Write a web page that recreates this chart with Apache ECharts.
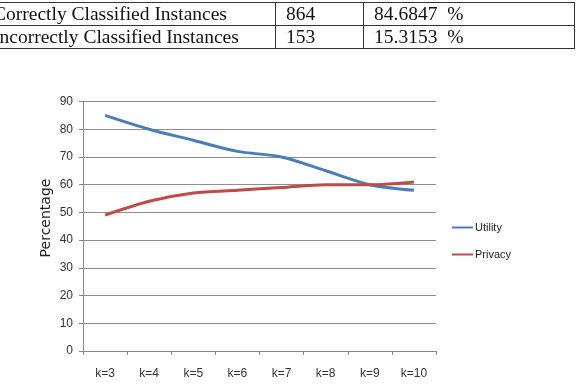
<!DOCTYPE html>
<html>
<head>
<meta charset="utf-8">
<script src="https://cdn.jsdelivr.net/npm/echarts@6/dist/echarts.min.js"></script>
<style>
  html, body { margin: 0; padding: 0; background: #fff; }
  #wrap { position: relative; width: 576px; height: 386px; overflow: hidden; }
  #chart { position: absolute; left: 0; top: 0; width: 576px; height: 386px; }
  #tbl {
    position: absolute; left: -18px; top: 2px; width: 592px;
    border-collapse: collapse; table-layout: fixed;
    font-family: "Liberation Serif", "DejaVu Serif", serif;
    font-size: 19.5px; color: #111;
  }
  #tbl td { border: 1px solid #333; padding: 0 0 0 10px; height: 22px; line-height: 22px; white-space: nowrap; overflow: hidden; }
</style>
</head>
<body>
<div id="wrap">
  <div id="chart"></div>
  <table id="tbl">
    <colgroup><col style="width:293px"><col style="width:88px"><col style="width:211px"></colgroup>
    <tr><td>Correctly Classified Instances</td><td>864</td><td>84.6847 &nbsp;%</td></tr>
    <tr><td>Incorrectly Classified Instances</td><td>153</td><td>15.3153 &nbsp;%</td></tr>
  </table>
</div>
<script>
// k 值
var categories = ['k=3', 'k=4', 'k=5', 'k=6', 'k=7', 'k=8', 'k=9', 'k=10'];
var utility = [85, 80, 76, 72, 70, 65, 60, 58];
var privacy = [49, 54, 57, 58, 59, 60, 60, 61];
var yTicks = [0, 10, 20, 30, 40, 50, 60, 70, 80, 90];

var colors = ['#4A7EBB', '#BE4B48'];
var myChart = echarts.init(document.getElementById('chart'));
var option = {
  color: colors,
  animation: false,
  grid: {
    left: 83,
    right: 140,
    top: 101.5,
    bottom: 35,
    containLabel: false,
    outerBoundsMode: 'none'
  },
  legend: {
    orient: 'vertical',
    left: 452,
    top: 222,
    padding: 0,
    icon: 'rect',
    itemWidth: 21,
    itemHeight: 2,
    itemGap: 16,
    textStyle: { fontFamily: 'Liberation Sans', fontSize: 11, color: '#222', padding: [0, 0, 0, -3] },
    data: ['Utility', 'Privacy']
  },
  graphic: [{
    type: 'text',
    x: 46,
    y: 218,
    rotation: Math.PI / 2,
    style: {
      text: 'Percentage',
      fontFamily: 'DejaVu Sans',
      fontSize: 14,
      fill: '#222',
      textAlign: 'center',
      textVerticalAlign: 'middle'
    }
  }],
  xAxis: {
    type: 'category',
    boundaryGap: true,
    data: categories,
    axisLine: { show: true, lineStyle: { color: '#868686', width: 1 } },
    axisTick: { show: true, length: 4, lineStyle: { color: '#868686' } },
    axisLabel: { margin: 17, fontFamily: 'Liberation Sans', fontSize: 12, color: '#333' }
  },
  yAxis: {
    type: 'value',
    min: yTicks[0],
    max: yTicks[yTicks.length - 1],
    interval: 10,
    axisLine: { show: true, lineStyle: { color: '#868686', width: 1 } },
    axisTick: { show: true, length: 4, lineStyle: { color: '#868686' } },
    axisLabel: { margin: 10, fontFamily: 'Liberation Sans', fontSize: 12, color: '#333' },
    splitLine: { show: true, lineStyle: { color: '#8c8c8c', width: 1 } }
  },
  series: [
    {
      name: 'Utility',
      type: 'line',
      data: utility,
      smooth: 0.3,
      symbol: 'none',
      lineStyle: { width: 3, color: colors[0] }
    },
    {
      name: 'Privacy',
      type: 'line',
      data: privacy,
      smooth: 0.3,
      symbol: 'none',
      lineStyle: { width: 3, color: colors[1] }
    }
  ]
};
myChart.setOption(option);
</script>
</body>
</html>
